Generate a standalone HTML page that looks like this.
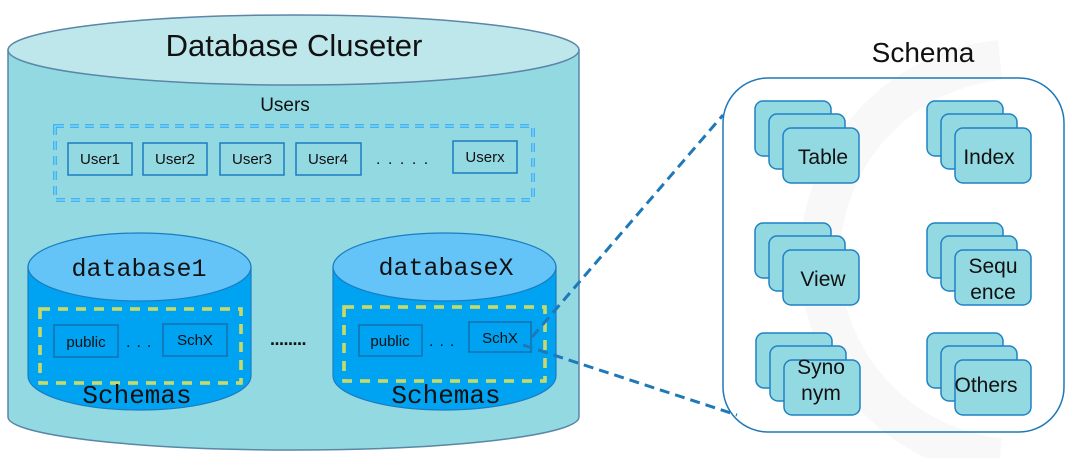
<!DOCTYPE html>
<html><head><meta charset="utf-8"><style>
html,body{margin:0;padding:0;background:#fff;}
svg{display:block;}
.s{font-family:"Liberation Sans",sans-serif;fill:#111;}
.m{font-family:"Liberation Mono",monospace;fill:#111;}
</style></head><body>
<svg width="1079" height="458" viewBox="0 0 1079 458" xmlns="http://www.w3.org/2000/svg">
<path d="M1000 60 A200 200 0 0 0 1000 458" fill="none" stroke="#f8f8f8" stroke-width="40"/>
<path d="M8 50 L8 417 A285.5 33 0 0 0 579 417 L579 50 Z" fill="#93d9e2" stroke="#5a86a8" stroke-width="1.5"/>
<ellipse cx="293.5" cy="50" rx="285.5" ry="35" fill="#bee7eb" stroke="#5a86a8" stroke-width="1.5"/>
<text class="s" x="294" y="56" font-size="31" text-anchor="middle">Database Cluseter</text>
<text class="s" x="285" y="111" font-size="19" text-anchor="middle">Users</text>
<rect x="55" y="126" width="478" height="74" fill="none" stroke="#2aa8f0" stroke-width="3.5" stroke-dasharray="9 6"/>
<rect x="55" y="126" width="478" height="74" fill="none" stroke="#b8e8f8" stroke-width="1" stroke-dasharray="9 6"/>
<g fill="none" stroke="#1b7cc0" stroke-width="1.5">
<rect x="68" y="143" width="64" height="32"/>
<rect x="143" y="143" width="64" height="32"/>
<rect x="220" y="143" width="64" height="32"/>
<rect x="296" y="143" width="65" height="32"/>
<rect x="453" y="141" width="64" height="32"/>
</g>
<g class="s" font-size="15" text-anchor="middle">
<text x="100" y="164">User1</text>
<text x="175" y="164">User2</text>
<text x="252" y="164">User3</text>
<text x="328" y="164">User4</text>
<text x="485" y="162">Userx</text>
</g>
<text class="s" x="376" y="164" font-size="16" letter-spacing="7.5">.....</text>

<path d="M28 267 L28 376 A111.5 34 0 0 0 251 376 L251 267 Z" fill="#00a3f2" stroke="#1b7cc0" stroke-width="1.2"/>
<ellipse cx="139.5" cy="267" rx="111.5" ry="34" fill="#64c4f8" stroke="#1b7cc0" stroke-width="1.2"/>
<text class="m" x="139" y="276" font-size="25" text-anchor="middle">database1</text>
<rect x="40" y="309" width="201" height="74" fill="none" stroke="#e0dc50" stroke-width="3.5" stroke-dasharray="10 8"/>
<rect x="40" y="309" width="201" height="74" fill="none" stroke="#a8d890" stroke-width="1" stroke-dasharray="10 8"/>
<rect x="54" y="325" width="64" height="32" fill="none" stroke="#1670b0" stroke-width="1.5"/>
<rect x="163" y="324" width="64" height="32" fill="none" stroke="#1670b0" stroke-width="1.5"/>
<text class="s" x="86" y="347" font-size="15" text-anchor="middle">public</text>
<text class="s" x="195" y="345" font-size="15" text-anchor="middle">SchX</text>
<text class="s" x="126" y="347" font-size="16" letter-spacing="6">...</text>
<text class="m" x="137" y="403" font-size="26" text-anchor="middle">Schemas</text>

<text class="s" x="270" y="345" font-size="18" font-weight="bold" letter-spacing="-0.5">........</text>

<path d="M333 267 L333 376 A111.5 34 0 0 0 556 376 L556 267 Z" fill="#00a3f2" stroke="#1b7cc0" stroke-width="1.2"/>
<ellipse cx="444.5" cy="267" rx="111.5" ry="34" fill="#64c4f8" stroke="#1b7cc0" stroke-width="1.2"/>
<text class="m" x="446" y="275" font-size="25" text-anchor="middle">databaseX</text>
<rect x="344" y="307" width="201" height="74" fill="none" stroke="#e0dc50" stroke-width="3.5" stroke-dasharray="10 8"/>
<rect x="344" y="307" width="201" height="74" fill="none" stroke="#a8d890" stroke-width="1" stroke-dasharray="10 8"/>
<rect x="359" y="325" width="63" height="31" fill="none" stroke="#1670b0" stroke-width="1.5"/>
<rect x="469" y="322" width="62" height="30" fill="none" stroke="#1670b0" stroke-width="1.5"/>
<text class="s" x="390" y="346" font-size="15" text-anchor="middle">public</text>
<text class="s" x="500" y="343" font-size="15" text-anchor="middle">SchX</text>
<text class="s" x="429" y="346" font-size="16" letter-spacing="6">...</text>
<text class="m" x="446" y="403" font-size="26" text-anchor="middle">Schemas</text>

<line x1="532" y1="337" x2="723" y2="115" stroke="#1f78b8" stroke-width="3" stroke-dasharray="10 6"/>
<line x1="523" y1="345" x2="737" y2="415" stroke="#1f78b8" stroke-width="3" stroke-dasharray="10 6"/>

<text class="s" x="923" y="62" font-size="28" text-anchor="middle">Schema</text>
<rect x="723" y="78" width="341" height="354" rx="45" fill="none" stroke="#1f78b8" stroke-width="1.5"/>

<g fill="#93d9e2" stroke="#1f82c4" stroke-width="1.5">
<rect x="755" y="101" width="76" height="55" rx="8"/><rect x="769" y="114" width="76" height="55" rx="8"/><rect x="783" y="128" width="76" height="55" rx="8"/>
<rect x="927" y="101" width="76" height="55" rx="8"/><rect x="941" y="114" width="76" height="55" rx="8"/><rect x="955" y="128" width="76" height="55" rx="8"/>
<rect x="755" y="223" width="76" height="55" rx="8"/><rect x="769" y="236" width="76" height="55" rx="8"/><rect x="783" y="250" width="76" height="55" rx="8"/>
<rect x="927" y="223" width="76" height="55" rx="8"/><rect x="941" y="236" width="76" height="55" rx="8"/><rect x="955" y="250" width="76" height="55" rx="8"/>
<rect x="756" y="333" width="76" height="55" rx="8"/><rect x="770" y="346" width="76" height="55" rx="8"/><rect x="784" y="360" width="76" height="55" rx="8"/>
<rect x="927" y="333" width="76" height="55" rx="8"/><rect x="941" y="346" width="76" height="55" rx="8"/><rect x="955" y="360" width="76" height="55" rx="8"/>
</g>
<g class="s" font-size="21" text-anchor="middle">
<text x="823" y="164">Table</text>
<text x="989" y="164">Index</text>
<text x="823" y="286">View</text>
<text x="993" y="273">Sequ</text>
<text x="993" y="299">ence</text>
<text x="821" y="374">Syno</text>
<text x="821" y="400">nym</text>
<text x="986" y="392">Others</text>
</g>
</svg>
</body></html>
